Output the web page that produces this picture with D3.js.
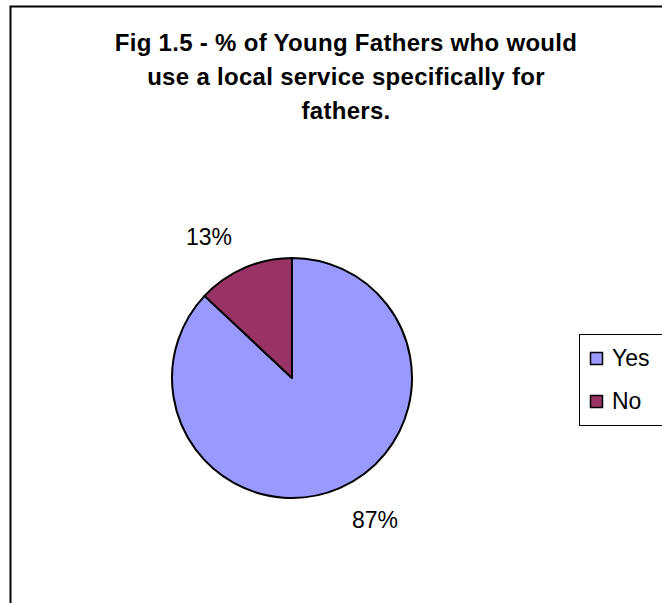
<!DOCTYPE html>
<html>
<head>
<meta charset="utf-8">
<script src="https://cdn.jsdelivr.net/npm/d3@7"></script>
<style>
  body { margin: 0; background: #fff; }
  text { font-family: "Liberation Sans", Arial, sans-serif; }
</style>
</head>
<body>
<div id="chart"></div>
<script>
const categories = ["Yes", "No"];
const values = [87, 13];
const pctLabels = ["87%", "13%"];
const colors = ["#9999FF", "#993366"];
const titleLines = [
  "Fig 1.5 - % of Young Fathers who would",
  "use a local service specifically for",
  "fathers."
];

const drawChart = (element, dims) => {
  const width = dims.width;
  const height = dims.height;
  const cx = 292, cy = 378, radius = 120;
  const labelRadius = 164;
  const labelNudge = -7 * Math.PI / 180;

  d3.select(element).selectAll("svg").remove();

  const svg = d3
    .select(element)
    .append("svg")
    .attr("width", width)
    .attr("height", height);

  // chart area border (runs off right and bottom)
  svg.append("rect")
    .attr("x", 10.5)
    .attr("y", 6.5)
    .attr("width", width + 20)
    .attr("height", height + 20)
    .attr("fill", "#fff")
    .attr("stroke", "#000")
    .attr("stroke-width", 2);

  svg.append("g")
    .attr("id", "title")
    .selectAll("text")
    .data(titleLines)
    .enter()
    .append("text")
    .attr("x", 346)
    .attr("y", (d, i) => 51 + i * 34)
    .attr("text-anchor", "middle")
    .attr("font-size", 24)
    .attr("font-weight", "bold")
    .attr("letter-spacing", 0.3)
    .text((d) => d);

  const data = categories.map((c, i) => ({ key: c, value: values[i], label: pctLabels[i], color: colors[i] }));
  const pie = d3.pie().sort(null).value((d) => d.value);
  const arcs = pie(data);
  const arc = d3.arc().innerRadius(0).outerRadius(radius);

  const g = svg.append("g")
    .attr("id", "pie")
    .attr("transform", `translate(${cx}, ${cy})`);

  g.selectAll("path")
    .data(arcs)
    .enter()
    .append("path")
    .attr("d", arc)
    .attr("fill", (d) => d.data.color)
    .attr("stroke", "#000")
    .attr("stroke-width", 2)
    .attr("stroke-linejoin", "round");

  g.selectAll("text")
    .data(arcs)
    .enter()
    .append("text")
    .attr("x", (d) => labelRadius * Math.sin((d.startAngle + d.endAngle) / 2 + labelNudge))
    .attr("y", (d) => -labelRadius * Math.cos((d.startAngle + d.endAngle) / 2 + labelNudge))
    .attr("dy", "0.35em")
    .attr("text-anchor", "middle")
    .attr("font-size", 23)
    .text((d) => d.data.label);

  // legend
  const lg = svg.append("g").attr("id", "legend");
  lg.append("rect")
    .attr("x", 579.5)
    .attr("y", 334.5)
    .attr("width", 120)
    .attr("height", 91)
    .attr("fill", "#fff")
    .attr("stroke", "#000")
    .attr("stroke-width", 1);

  const items = lg.selectAll("g.item")
    .data(data)
    .enter()
    .append("g")
    .attr("class", "item")
    .attr("transform", (d, i) => `translate(590, ${358 + i * 43})`);

  items.append("rect")
    .attr("x", 0.5)
    .attr("y", -5.5)
    .attr("width", 12)
    .attr("height", 12)
    .attr("fill", (d) => d.color)
    .attr("stroke", "#000")
    .attr("stroke-width", 1.5);

  items.append("text")
    .attr("x", 22)
    .attr("y", 0)
    .attr("dy", "0.35em")
    .attr("font-size", 23)
    .text((d) => d.key);
};

drawChart("#chart", { width: 662, height: 603 });
</script>
</body>
</html>
